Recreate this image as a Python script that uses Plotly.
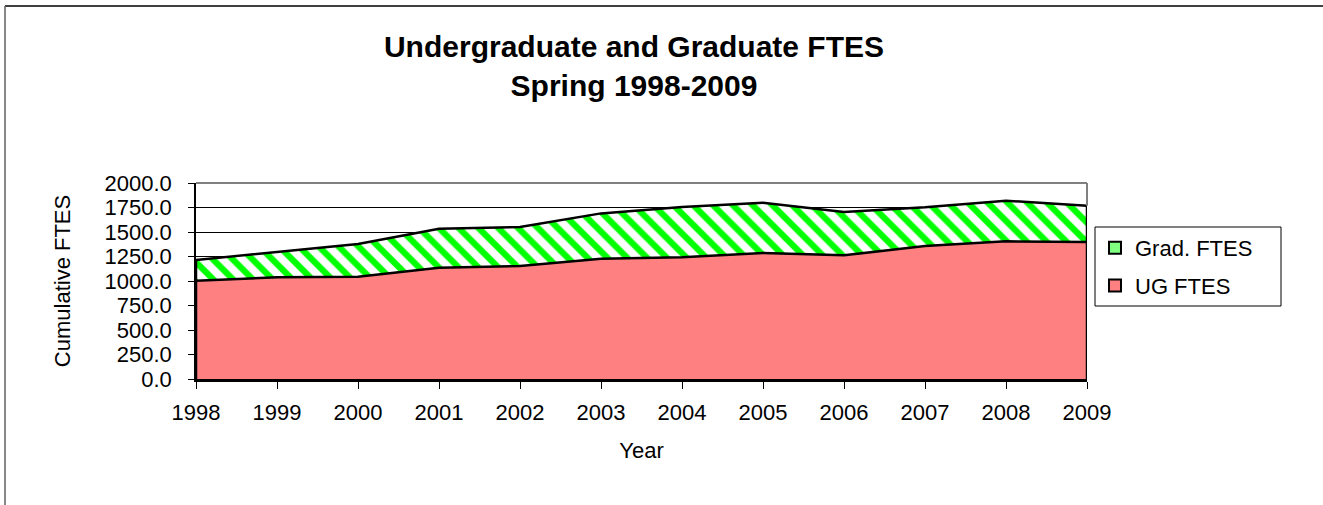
import plotly.graph_objects as go

years = [1998, 1999, 2000, 2001, 2002, 2003, 2004, 2005, 2006, 2007, 2008, 2009]
ug_ftes = [1003, 1038, 1044, 1136, 1153, 1228, 1242, 1286, 1262, 1357, 1405, 1398]
grad_ftes = [211, 255, 334, 398, 398, 462, 513, 513, 442, 395, 414, 371]
y_ticks = [0, 250, 500, 750, 1000, 1250, 1500, 1750, 2000]

total = [u + g for u, g in zip(ug_ftes, grad_ftes)]

FONT = "Arial, 'Liberation Sans', sans-serif"
W, H = 1323, 505
L, R, T, B = 196, 1087, 183, 379  # plot area pixel bounds
UG_COLOR = "#FF8080"


def px(x):
    return (x - L) / (R - L)


def py(y):
    return (B - y) / (B - T)


fig = go.Figure()
fig.add_trace(go.Scatter(
    x=years, y=ug_ftes, name="UG FTES", mode="lines",
    fill="tozeroy", fillcolor=UG_COLOR,
    line=dict(color="black", width=2.5), showlegend=False,
))
fig.add_trace(go.Scatter(
    x=years, y=total, name="Grad. FTES", mode="lines",
    fill="tonexty", fillcolor="white",
    fillpattern=dict(shape="\\", fgcolor="#00FF00", bgcolor="white",
                     fgopacity=1, size=14, solidity=0.45),
    line=dict(color="black", width=2.5), showlegend=False,
))
# closing edges of the stacked area
for i in (0, -1):
    fig.add_trace(go.Scatter(
        x=[years[i], years[i]], y=[0, total[i]], mode="lines",
        line=dict(color="black", width=2.5), showlegend=False, hoverinfo="skip",
    ))
# legend keys (square swatches as in the original)
fig.add_trace(go.Scatter(
    x=[None], y=[None], mode="markers", name="Grad. FTES", legendgroup="grad",
    marker=dict(symbol="square", size=12, color="#80FF80", line=dict(color="black", width=2)),
))
fig.add_trace(go.Scatter(
    x=[None], y=[None], mode="markers", name="UG FTES", legendgroup="ug",
    marker=dict(symbol="square", size=12, color=UG_COLOR, line=dict(color="black", width=2)),
))

fig.update_layout(
    width=W, height=H,
    margin=dict(l=L, r=W - R, t=T, b=H - B, pad=0),
    paper_bgcolor="white", plot_bgcolor="white",
    font=dict(family=FONT, size=22, color="black"),
    showlegend=True,
    title=dict(
        text="<b>Undergraduate and Graduate FTES<br>Spring 1998-2009</b>",
        x=634 / W, xanchor="center", xref="container",
        y=1 - 57 / H, yanchor="middle", yref="container",
        font=dict(family=FONT, size=30, color="black"),
    ),
    legend=dict(
        x=px(1095), xanchor="left", y=py(227), yanchor="top",
        borderwidth=0, bgcolor="rgba(0,0,0,0)",
        traceorder="grouped", tracegroupgap=6,
        font=dict(family=FONT, size=22, color="black"),
        itemwidth=30,
    ),
    xaxis=dict(
        range=[years[0], years[-1]], tickvals=years, ticktext=[str(y) for y in years],
        showgrid=False, zeroline=False,
        showline=True, linecolor="black", linewidth=2.5,
        ticks="outside", ticklen=7, tickcolor="black", tickwidth=1,
        ticklabelstandoff=5,
        title=dict(text="Year", standoff=19, font=dict(family=FONT, size=22)),
    ),
    yaxis=dict(
        range=[0, 2000], tickvals=y_ticks, tickformat=".1f",
        showgrid=True, gridcolor="black", gridwidth=1, zeroline=False,
        showline=True, linecolor="black", linewidth=1.5,
        ticks="outside", ticklen=6, tickcolor="black", tickwidth=1,
        ticklabelstandoff=12,
        title=dict(text="Cumulative FTES", standoff=28, font=dict(family=FONT, size=22)),
    ),
    shapes=[
        # plot area border (top & right grey)
        dict(type="line", xref="paper", yref="paper", x0=0, x1=1, y0=1, y1=1,
             line=dict(color="#808080", width=2), layer="above"),
        dict(type="line", xref="paper", yref="y", x0=1, x1=1, y0=total[-1], y1=2000,
             line=dict(color="#808080", width=2), layer="above"),
        # legend frame
        dict(type="rect", xref="paper", yref="paper", x0=px(1095), x1=px(1281),
             y0=py(306), y1=py(227), line=dict(color="black", width=1),
             fillcolor="white", layer="below"),
        # outer chart border (top and left visible)
        dict(type="line", xref="paper", yref="paper", x0=px(5), x1=px(W + 5),
             y0=py(6), y1=py(6), line=dict(color="black", width=1.5)),
        dict(type="line", xref="paper", yref="paper", x0=px(5), x1=px(5),
             y0=py(6), y1=py(H + 5), line=dict(color="#606060", width=1.5)),
    ],
)

fig.write_html("out.html", config={"displayModeBar": False},
               post_script="document.body.style.margin='0';")
